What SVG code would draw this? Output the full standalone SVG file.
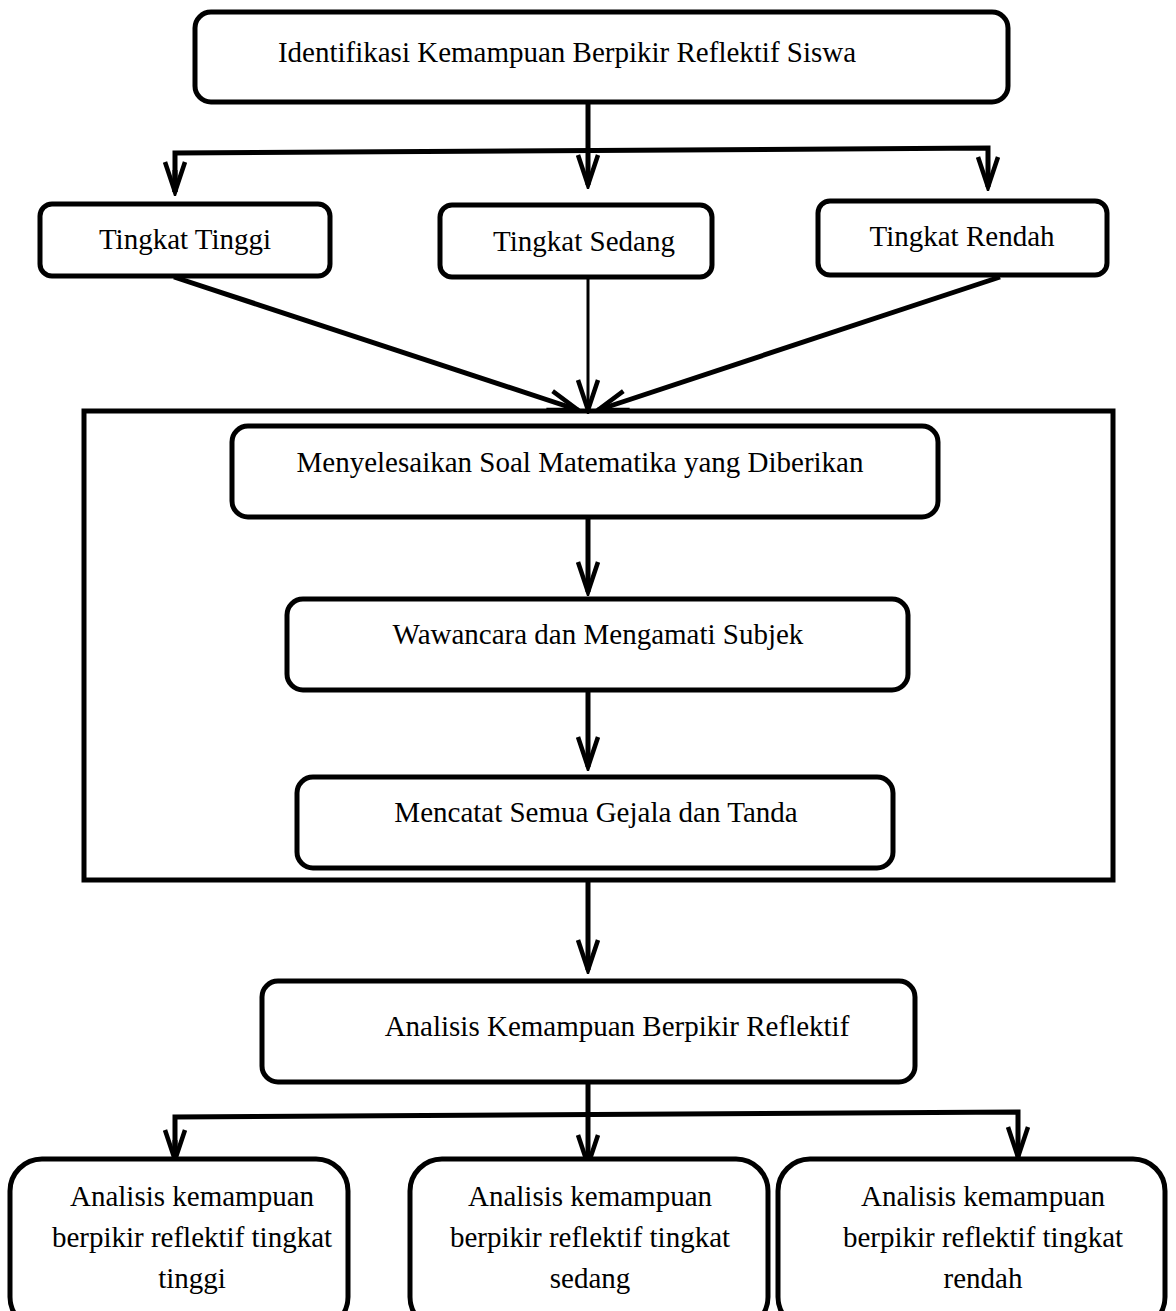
<svg xmlns="http://www.w3.org/2000/svg" width="1176" height="1311" viewBox="0 0 1176 1311">
<style>
.box{fill:#fff;stroke:#000;stroke-width:5}
.t{font-family:"Liberation Serif","Times New Roman",serif;font-size:29px;fill:#000;text-anchor:middle}
.c{fill:none;stroke:#000;stroke-width:5}
.thin{fill:none;stroke:#000;stroke-width:3}
</style>
<defs>
<marker id="ah" markerUnits="userSpaceOnUse" viewBox="-32 -14 36 28" refX="0" refY="0" markerWidth="36" markerHeight="28" orient="auto">
<path d="M-30,-10 L0,0 L-30,10" fill="none" stroke="#000" stroke-width="4.5"/>
</marker>
</defs>
<rect width="1176" height="1311" fill="#fff"/>
<rect id="frame" x="84" y="411" width="1029" height="469" fill="none" stroke="#000" stroke-width="5"/>
<g id="connectors">
<line class="c" x1="588" y1="102" x2="588" y2="185" marker-end="url(#ah)"/>
<polyline class="c" points="175,192 175,153 988,148 988,187" marker-end="url(#ah)"/>
<line class="c" x1="175" y1="170" x2="175" y2="192" marker-end="url(#ah)"/>
<line class="c" x1="174" y1="277" x2="578" y2="410" marker-end="url(#ah)"/>
<line class="thin" x1="588" y1="277" x2="588" y2="410" marker-end="url(#ah)"/>
<line class="c" x1="1000" y1="277" x2="598" y2="410" marker-end="url(#ah)"/>
<line class="c" x1="588" y1="517" x2="588" y2="592" marker-end="url(#ah)"/>
<line class="c" x1="588" y1="690" x2="588" y2="767" marker-end="url(#ah)"/>
<line class="c" x1="588" y1="880" x2="588" y2="970" marker-end="url(#ah)"/>
<line class="c" x1="588" y1="1082" x2="588" y2="1165" marker-end="url(#ah)"/>
<polyline class="c" points="175,1160 175,1117 1018,1112 1018,1157" marker-end="url(#ah)"/>
<line class="c" x1="175" y1="1140" x2="175" y2="1160" marker-end="url(#ah)"/>
</g>
<g id="n1"><rect class="box" x="195" y="12" width="813" height="90" rx="16"/><text class="t" x="567" y="62">Identifikasi Kemampuan Berpikir Reflektif Siswa</text></g>
<g id="n2"><rect class="box" x="40" y="204" width="290" height="72" rx="12"/><text class="t" x="185" y="249">Tingkat Tinggi</text></g>
<g id="n3"><rect class="box" x="440" y="205" width="272" height="72" rx="12"/><text class="t" x="584" y="251">Tingkat Sedang</text></g>
<g id="n4"><rect class="box" x="818" y="201" width="289" height="74" rx="12"/><text class="t" x="962" y="246">Tingkat Rendah</text></g>
<g id="n5"><rect class="box" x="232" y="426" width="706" height="91" rx="16"/><text class="t" x="580" y="472">Menyelesaikan Soal Matematika yang Diberikan</text></g>
<g id="n6"><rect class="box" x="287" y="599" width="621" height="91" rx="16"/><text class="t" x="598" y="644">Wawancara dan Mengamati Subjek</text></g>
<g id="n7"><rect class="box" x="297" y="777" width="596" height="91" rx="16"/><text class="t" x="596" y="822">Mencatat Semua Gejala dan Tanda</text></g>
<g id="n8"><rect class="box" x="262" y="981" width="653" height="101" rx="16"/><text class="t" x="617" y="1036">Analisis Kemampuan Berpikir Reflektif</text></g>
<g id="n9"><rect class="box" x="10" y="1159" width="338" height="170" rx="32"/><text class="t" x="192" y="1206">Analisis kemampuan</text><text class="t" x="192" y="1247">berpikir reflektif tingkat</text><text class="t" x="192" y="1288">tinggi</text></g>
<g id="n10"><rect class="box" x="410" y="1159" width="358" height="170" rx="32"/><text class="t" x="590" y="1206">Analisis kemampuan</text><text class="t" x="590" y="1247">berpikir reflektif tingkat</text><text class="t" x="590" y="1288">sedang</text></g>
<g id="n11"><rect class="box" x="778" y="1159" width="387" height="170" rx="32"/><text class="t" x="983" y="1206">Analisis kemampuan</text><text class="t" x="983" y="1247">berpikir reflektif tingkat</text><text class="t" x="983" y="1288">rendah</text></g>
</svg>
